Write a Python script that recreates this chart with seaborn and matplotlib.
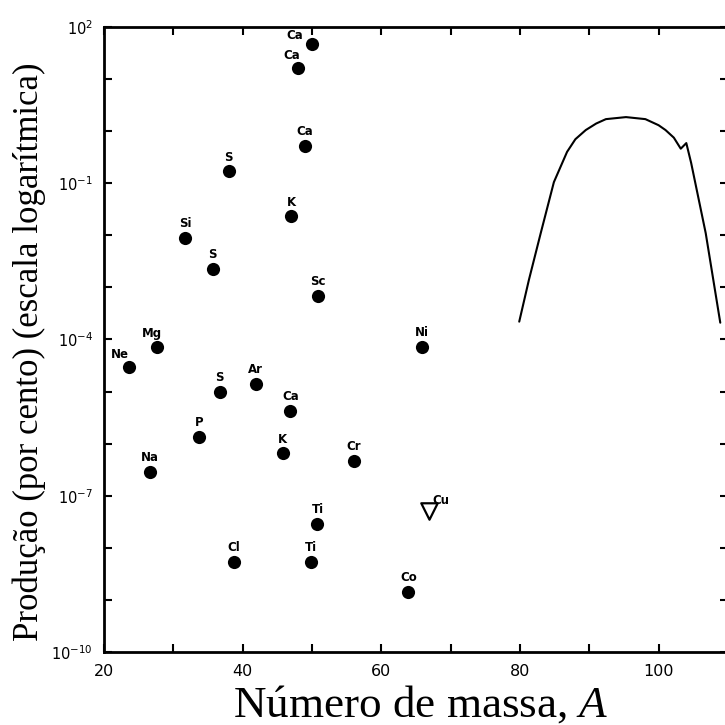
import numpy as np
import pandas as pd
import matplotlib
matplotlib.use("Agg")
import matplotlib.pyplot as plt
import matplotlib.ticker as mticker
import seaborn as sns

# Nuclide yields (mass number, yield in %)
elements = ['Ca', 'Ca', 'Ca', 'S', 'K', 'Si', 'S', 'Sc', 'Mg', 'Ne', 'Ni',
            'S', 'Ar', 'Ca', 'P', 'K', 'Cr', 'Na', 'Ti', 'Cl', 'Ti', 'Co']
mass_number = [50.0, 48.0, 49.0, 38.0, 47.0, 31.7, 35.7, 50.9, 27.6, 23.6, 65.9,
               36.7, 41.9, 46.9, 33.7, 45.8, 56.0, 26.6, 50.8, 38.7, 49.9, 63.9]
yield_pct = [47, 16, 0.52, 0.17, 0.023, 0.0089, 0.0023, 6.9e-4, 7.2e-5, 3.0e-5, 7.2e-5,
             1.0e-5, 1.4e-5, 4.3e-6, 1.35e-6, 6.6e-7, 4.7e-7, 2.9e-7, 2.9e-8, 5.4e-9, 5.4e-9, 1.45e-9]

# upper limit (open triangle)
limit_element = 'Cu'
limit_mass = 66.9
limit_yield = 5.1e-8

# fission-like curve on the right
curve_mass = [79.9, 81.3, 83.0, 84.9, 86.8, 88.0, 89.5, 91.0, 92.4, 95.3, 98.1,
              100.0, 101.0, 102.2, 103.2, 104.0, 104.7, 106.8, 108.9]
curve_yield = [2.2e-4, 1.4e-3, 0.011, 0.105, 0.40, 0.70, 1.05, 1.4, 1.7, 1.86, 1.7,
               1.3, 1.05, 0.75, 0.46, 0.59, 0.245, 0.011, 2.1e-4]

sns.set_theme(style="ticks")
plt.rcParams['font.family'] = ['DejaVu Sans']
plt.rcParams['mathtext.fontset'] = 'custom'
plt.rcParams['mathtext.rm'] = 'Liberation Serif'
plt.rcParams['mathtext.it'] = 'Liberation Serif:italic'

points = pd.DataFrame({'el': elements, 'A': mass_number, 'Y': yield_pct})
curve = pd.DataFrame({'A': curve_mass, 'Y': curve_yield})

fig = plt.figure(figsize=(7.25, 7.25), dpi=100)
ax = fig.add_axes([0.1434, 0.1007, 0.8606, 0.8621])

sns.scatterplot(data=points, x='A', y='Y', color='black', s=90, edgecolor='black',
                linewidth=0, ax=ax, zorder=3)
ax.scatter([limit_mass], [limit_yield], marker='v', s=140, facecolor='white',
           edgecolor='black', linewidth=1.6, zorder=3)
sns.lineplot(data=curve, x='A', y='Y', sort=False, color='black', linewidth=1.5,
             ax=ax, estimator=None)

# label offsets in pixels (default: centred just above the dot)
offsets = {0: (-17, 9), 1: (-6, 13), 8: (-5, 13), 9: (-9, 12)}
for i, row in points.iterrows():
    dx, dy = offsets.get(i, (0, 14))
    ax.annotate(row['el'], (row['A'], row['Y']), xytext=(dx, dy),
                textcoords='offset pixels', ha='center', va='center',
                fontsize=8.5, fontweight='bold', color='black')
ax.annotate(limit_element, (limit_mass, limit_yield), xytext=(12, 10),
            textcoords='offset pixels', ha='center', va='center',
            fontsize=8.5, fontweight='bold', color='black')

ax.set_yscale('log')
ax.set_xlim(20, 110)
ax.set_ylim(1e-10, 1e2)

ax.xaxis.set_major_locator(mticker.FixedLocator([20, 40, 60, 80, 100]))
ax.xaxis.set_minor_locator(mticker.FixedLocator([30, 50, 70, 90]))
ax.yaxis.set_major_locator(mticker.FixedLocator([1e2, 1e-1, 1e-4, 1e-7, 1e-10]))
ax.yaxis.set_minor_locator(mticker.FixedLocator([10.0 ** k for k in range(-10, 3)]))
ax.yaxis.set_major_formatter(mticker.FuncFormatter(
    lambda v, p: r'$\mathregular{10^{%d}}$' % int(round(np.log10(v)))))
ax.yaxis.set_minor_formatter(mticker.NullFormatter())

ax.tick_params(which='both', direction='in', top=True, right=True, length=6,
               width=1.5, color='black', labelsize=11.5, labelcolor='black')
ax.tick_params(axis='x', pad=9)
ax.tick_params(axis='y', labelsize=10.5, pad=8)

for sp in ax.spines.values():
    sp.set_linewidth(2)
    sp.set_color('black')

ax.set_xlabel(r'Número de massa, $\mathit{A}$', family='Liberation Serif',
              fontsize=32.5, color='black')
ax.set_ylabel('Produção (por cento) (escala logarítmica)', family='Liberation Serif',
              fontsize=25, color='black')
ax.xaxis.set_label_coords(0.508, -0.05)
ax.yaxis.set_label_coords(-0.093, 0.48)

fig.savefig('out.png', dpi=100, facecolor='white')
